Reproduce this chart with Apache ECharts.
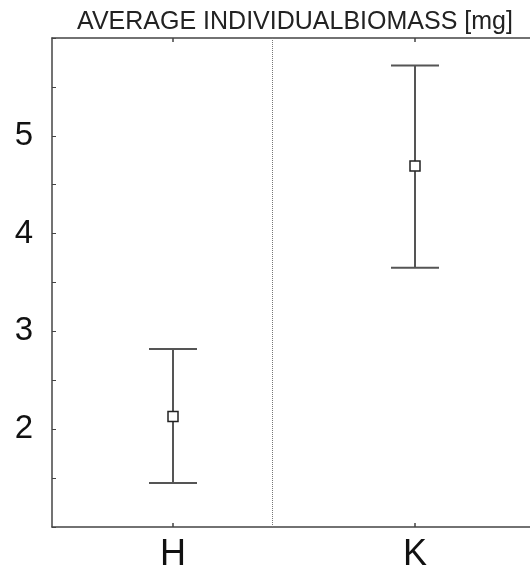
<!DOCTYPE html>
<html>
<head>
<meta charset="utf-8">
<script src="https://cdn.jsdelivr.net/npm/echarts@6/dist/echarts.min.js"></script>
<style>
  html, body { margin: 0; padding: 0; background: #ffffff; }
  #chart { width: 530px; height: 570px; }
</style>
</head>
<body>
<div id="chart"></div>
<script>
// Groups and their mean individual biomass with whisker limits (mg)
const categories = ['H', 'K'];
const groupPos = [1, 2];
const means = [2.13, 4.69];
const upperLimits = [2.82, 5.72];
const lowerLimits = [1.45, 3.65];
const yLabelValues = [2, 3, 4, 5];
const separatorAt = 1.41;

const chart = echarts.init(document.getElementById('chart'));

const whiskerData = groupPos.map((x, i) => [x, lowerLimits[i], upperLimits[i]]);
const meanData = groupPos.map((x, i) => [x, means[i]]);

const axisColor = '#444';
const fontFamily = 'Liberation Sans, Arial, sans-serif';

chart.setOption({
  backgroundColor: '#ffffff',
  animation: false,
  title: {
    text: 'AVERAGE INDIVIDUALBIOMASS [mg]',
    left: 290,
    textAlign: 'center',
    top: 5,
    textStyle: { fontFamily, fontSize: 25, fontWeight: 'normal', color: '#222' }
  },
  grid: { left: 52, top: 38, width: 484, height: 489, outerBoundsMode: 'none' },
  xAxis: [{
    type: 'value',
    min: 0.5,
    max: 2.5,
    position: 'bottom',
    splitLine: { show: false },
    axisLine: { show: true, lineStyle: { color: axisColor, width: 1.5 } },
    axisTick: { show: true, inside: true, length: 4, customValues: groupPos, lineStyle: { color: axisColor, width: 1.5 } },
    axisLabel: {
      customValues: groupPos,
      formatter: v => categories[groupPos.indexOf(v)] || '',
      fontFamily, fontSize: 36, color: '#111', margin: 10
    }
  }, {
    type: 'value',
    min: 0.5,
    max: 2.5,
    position: 'top',
    splitLine: { show: false },
    axisLine: { show: true, lineStyle: { color: axisColor, width: 1.5 } },
    axisTick: { show: true, inside: true, length: 4, customValues: groupPos, lineStyle: { color: axisColor, width: 1.5 } },
    axisLabel: { show: false }
  }],
  yAxis: [{
    type: 'value',
    min: 1,
    max: 6,
    interval: 0.5,
    position: 'left',
    splitLine: { show: false },
    axisLine: { show: true, lineStyle: { color: axisColor, width: 1.5 } },
    axisTick: { show: true, inside: true, length: 4, lineStyle: { color: axisColor, width: 1 } },
    axisLabel: {
      formatter: v => (yLabelValues.indexOf(v) >= 0 ? String(v) : ''),
      fontFamily, fontSize: 33, color: '#111', margin: 19
    }
  }, {
    type: 'value',
    min: 1,
    max: 6,
    interval: 0.5,
    position: 'right',
    splitLine: { show: false },
    axisLine: { show: true, lineStyle: { color: axisColor, width: 1.5 } },
    axisTick: { show: true, inside: true, length: 4, lineStyle: { color: '#ccc', width: 1 } },
    axisLabel: { show: false }
  }],
  series: [{
    type: 'custom',
    xAxisIndex: 0,
    yAxisIndex: 0,
    data: whiskerData,
    encode: { x: 0, y: [1, 2] },
    renderItem: (params, api) => {
      const x = api.value(0);
      const lo = api.coord([x, api.value(1)]);
      const hi = api.coord([x, api.value(2)]);
      const half = 24;
      const style = { stroke: '#555', lineWidth: 2 };
      return {
        type: 'group',
        children: [
          { type: 'line', shape: { x1: lo[0], y1: lo[1], x2: hi[0], y2: hi[1] }, style },
          { type: 'line', shape: { x1: hi[0] - half, y1: hi[1], x2: hi[0] + half, y2: hi[1] }, style },
          { type: 'line', shape: { x1: lo[0] - half, y1: lo[1], x2: lo[0] + half, y2: lo[1] }, style }
        ]
      };
    },
    markLine: {
      silent: true,
      symbol: 'none',
      label: { show: false },
      lineStyle: { type: 'dotted', color: '#777', width: 1 },
      data: [{ xAxis: separatorAt }]
    },
    z: 2
  }, {
    type: 'scatter',
    xAxisIndex: 0,
    yAxisIndex: 0,
    data: meanData,
    symbol: 'rect',
    symbolSize: 10,
    itemStyle: { color: '#ffffff', borderColor: '#222', borderWidth: 1.5, opacity: 1 },
    z: 3
  }]
});
</script>
</body>
</html>
